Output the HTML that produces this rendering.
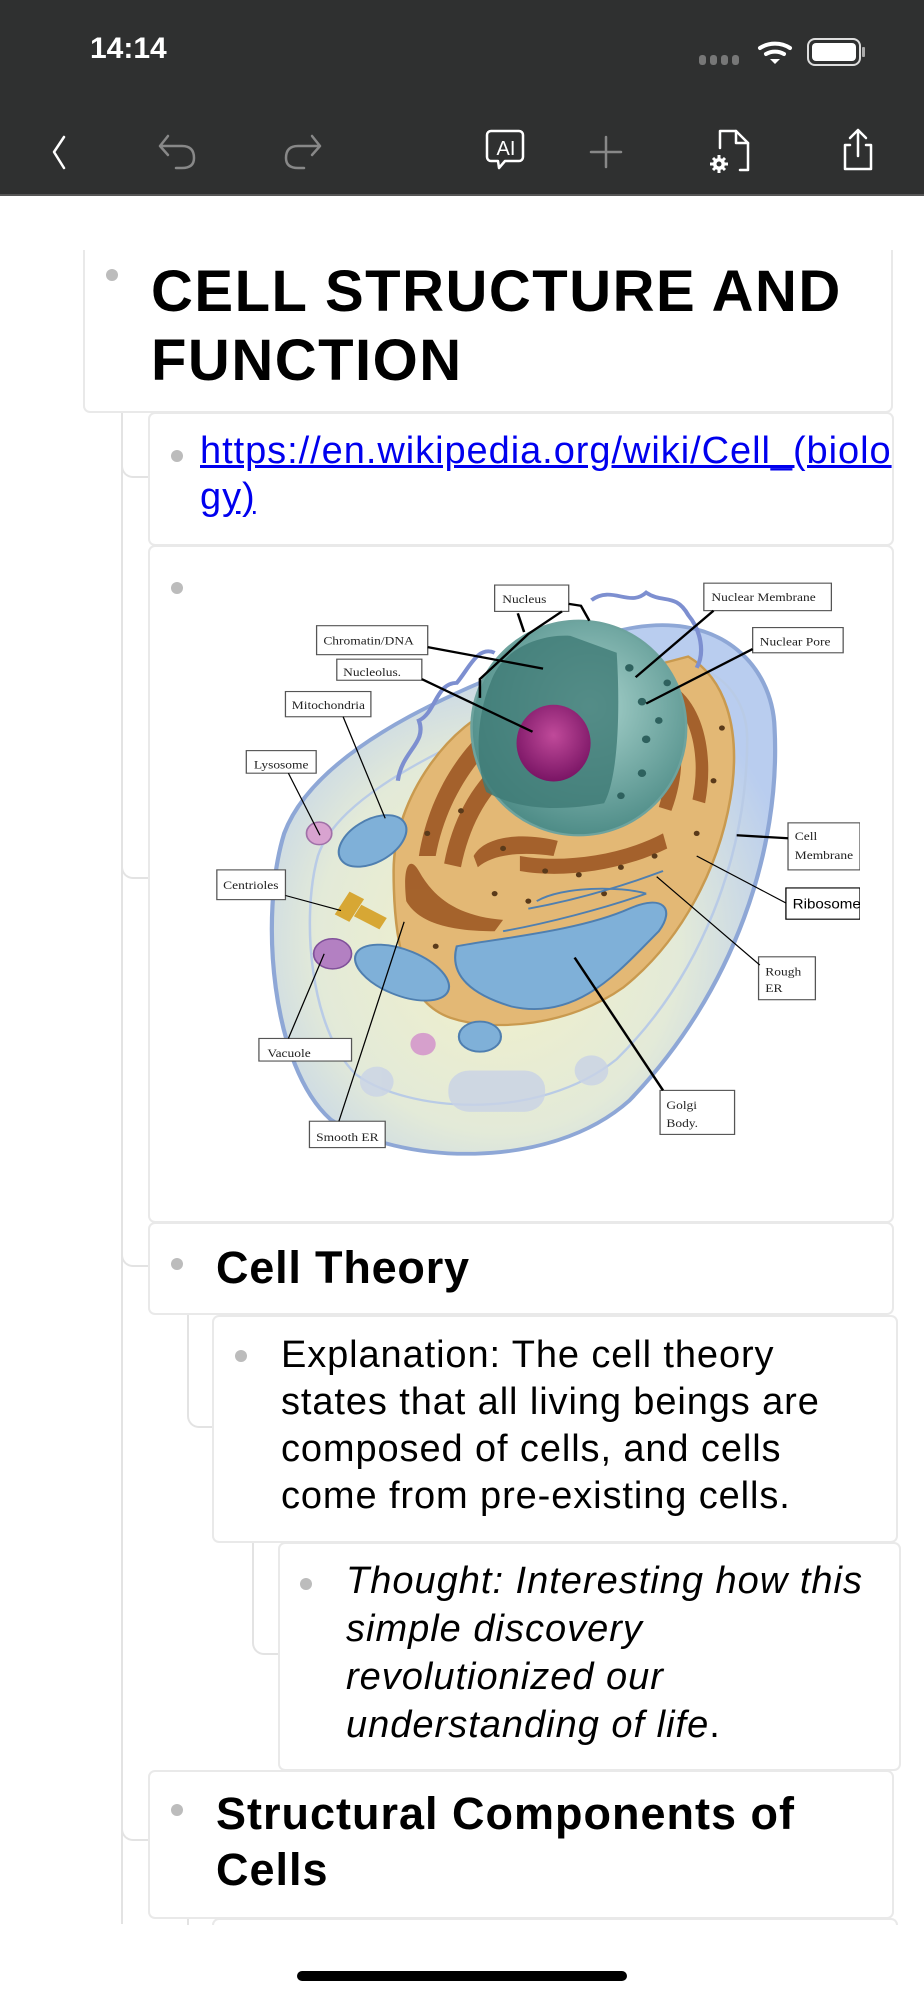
<!DOCTYPE html>
<html><head><meta charset="utf-8">
<style>
*{margin:0;padding:0;box-sizing:border-box}
body{width:924px;height:2000px;background:#fff;position:relative;overflow:hidden;font-family:"Liberation Sans",Arial,sans-serif;color:#000}
.hdr{position:absolute;left:0;top:0;width:924px;height:196px;background:#2f3030;border-bottom:2px solid #555}
.card{position:absolute;border:2px solid #e9e9e9;border-radius:7px;background:#fff}
.dot{position:absolute;width:12px;height:12px;border-radius:50%;background:#bcbcbc}
.t{position:absolute;white-space:nowrap}
.vl{position:absolute;width:2px;background:#e3e3e3}
.br{position:absolute;border-left:2px solid #e3e3e3;border-bottom:2px solid #e3e3e3;border-bottom-left-radius:12px}
</style></head><body>
<div class="hdr">
<div class="t" style="left:90px;top:32px;font-size:30px;color:#fff;font-weight:bold;letter-spacing:0px">14:14</div>
<svg width="924" height="196" style="position:absolute;left:0;top:0">
<g fill="#777"><rect x="699" y="55" width="7" height="10" rx="3"/><rect x="710" y="55" width="7" height="10" rx="3"/><rect x="721" y="55" width="7" height="10" rx="3"/><rect x="732" y="55" width="7" height="10" rx="3"/></g>
<g fill="none" stroke="#fff" stroke-width="4" stroke-linecap="round"><path d="M760 48 A28 28 0 0 1 790 48"/><path d="M766 54 A18 18 0 0 1 784 54"/></g>
<path d="M770 59 L775 64 L780 59 Z" fill="#fff"/>
<rect x="808" y="39" width="52" height="26" rx="7" fill="none" stroke="#ddd" stroke-width="2"/>
<rect x="812" y="43" width="44" height="18" rx="4" fill="#fff"/>
<rect x="862" y="47" width="3" height="10" rx="1" fill="#aaa"/>
<g fill="none" stroke-width="2.5" stroke-linecap="round" stroke-linejoin="round">
<path d="M64 137 L54 152 L64 168" stroke="#fff"/>
<path d="M168 136 L160 146 L168 155 M160 146 L182 146 Q194 146 194 158 Q194 168 182 168 L176 168" stroke="#888"/>
<path d="M312 136 L320 146 L312 155 M320 146 L298 146 Q286 146 286 158 Q286 168 298 168 L304 168" stroke="#888"/>
<path d="M606 137 L606 167 M591 152 L621 152" stroke="#888"/>
<path d="M491 131 h28 a4 4 0 0 1 4 4 v22 a4 4 0 0 1 -4 4 h-14 l-6 7 l-1 -7 h-7 a4 4 0 0 1 -4 -4 v-22 a4 4 0 0 1 4 -4z" stroke="#fff"/>
<path d="M720 148 v-17 h16 l12 12 v27 h-8" stroke="#fff"/><path d="M736 131 v12 h12" stroke="#fff"/>
<path d="M858 130 v26 M850 138 l8 -8 l8 8 M850 145 h-5 v24 h26 v-24 h-5" stroke="#fff"/>
</g>
<text x="506" y="155" fill="#fff" font-family="Liberation Sans,sans-serif" font-size="20" text-anchor="middle">AI</text>
<circle cx="719" cy="164" r="6" fill="#fff"/>
<g stroke="#fff" stroke-width="3"><path d="M719 155v18M710 164h18M713 158l12 12M725 158l-12 12"/></g><circle cx="719" cy="164" r="2.5" fill="#2f3030"/>
</svg>
</div>

<div class="vl" style="left:121px;top:412px;height:1512px"></div>
<div class="br" style="left:121px;top:412px;width:28px;height:66px"></div>
<div class="br" style="left:121px;top:545px;width:28px;height:334px"></div>
<div class="br" style="left:121px;top:1222px;width:28px;height:45px"></div>
<div class="br" style="left:121px;top:1314px;width:28px;height:527px"></div>
<div class="br" style="left:187px;top:1314px;width:26px;height:114px"></div>
<div class="br" style="left:252px;top:1542px;width:27px;height:113px"></div>
<div class="vl" style="left:187px;top:1918px;height:7px"></div>

<div class="card" style="left:83px;top:250px;width:810px;height:163px;border-top:none;border-radius:0 0 7px 7px"></div>
<div class="dot" style="left:106px;top:269px"></div>
<div class="t" style="left:151px;top:257px;font-size:58px;font-weight:bold;line-height:69px;letter-spacing:1.5px">CELL STRUCTURE AND<br>FUNCTION</div>

<div class="card" style="left:148px;top:412px;width:746px;height:134px"></div>
<div class="dot" style="left:171px;top:450px"></div>
<div class="t" style="left:200px;top:428px;font-size:38px;line-height:46px;color:#0000ee;text-decoration:underline;overflow:hidden;width:694px;letter-spacing:0.95px">https://en.wikipedia.org/wiki/Cell_(biolo<br>gy)</div>

<div class="card" style="left:148px;top:545px;width:746px;height:678px"></div>
<div class="dot" style="left:171px;top:582px"></div>
<svg style="position:absolute;left:200px;top:570px" width="660" height="590" viewBox="0 0 1568 1568" preserveAspectRatio="none">
<defs>
<radialGradient id="cy" cx="0.45" cy="0.6" r="0.6"><stop offset="0" stop-color="#f3f1c8"/><stop offset="0.6" stop-color="#e3ead8"/><stop offset="1" stop-color="#b9cdef"/></radialGradient>
<radialGradient id="nu" cx="0.55" cy="0.4" r="0.6"><stop offset="0" stop-color="#a9d3cd"/><stop offset="1" stop-color="#4f8d88"/></radialGradient>
<radialGradient id="no" cx="0.5" cy="0.4" r="0.6"><stop offset="0" stop-color="#c04a9a"/><stop offset="1" stop-color="#7a1565"/></radialGradient>
</defs>
<path d="M200 700 C280 460 650 290 1000 160 C1230 100 1360 250 1365 420 C1380 740 1270 1120 1020 1410 C830 1600 470 1580 310 1460 C170 1320 140 920 200 700Z" fill="url(#cy)" stroke="#8ea7d6" stroke-width="10"/>
<path d="M280 760 C340 560 700 420 1000 260 C1180 200 1300 300 1300 450 C1300 760 1190 1080 990 1300 C800 1470 490 1440 370 1340 C260 1220 240 920 280 760Z" fill="none" stroke="#b9cbe6" stroke-width="6"/>
<path d="M460 800 C460 600 600 400 720 360 L1160 230 C1250 290 1280 420 1265 570 C1240 790 1140 990 1005 1110 C880 1210 700 1230 595 1190 C490 1150 460 1000 460 800Z" fill="#e3b875" stroke="#c99a4f" stroke-width="6"/>
<g fill="#9a5320" opacity="0.85">
<path d="M520 760 C540 620 600 500 680 420 L700 460 C630 540 580 640 560 760Z"/>
<path d="M580 780 C600 660 650 560 720 500 L740 540 C680 600 640 680 620 790Z"/>
<path d="M650 760 C680 700 780 700 850 720 L840 760 C780 750 700 750 660 790Z"/>
<path d="M760 760 C860 780 1000 760 1100 700 L1110 740 C1000 800 860 820 760 800Z"/>
<path d="M1140 320 C1200 380 1220 500 1200 620 L1170 610 C1190 500 1170 400 1120 340Z"/>
<path d="M1080 320 C1150 400 1160 520 1120 640 L1090 630 C1120 520 1110 420 1060 340Z"/>
<path d="M490 880 C480 780 500 760 520 800 C560 880 620 920 720 930 L700 960 C600 960 520 940 490 880Z"/>
</g>
<g fill="#5a3a1a"><circle cx="540" cy="700" r="7"/><circle cx="620" cy="640" r="7"/><circle cx="720" cy="740" r="7"/><circle cx="820" cy="800" r="7"/><circle cx="900" cy="810" r="7"/><circle cx="1000" cy="790" r="7"/><circle cx="1080" cy="760" r="7"/><circle cx="1180" cy="700" r="7"/><circle cx="1220" cy="560" r="7"/><circle cx="1240" cy="420" r="7"/><circle cx="960" cy="860" r="7"/><circle cx="780" cy="880" r="7"/><circle cx="560" cy="1000" r="7"/><circle cx="700" cy="860" r="7"/></g>
<path d="M470 560 C480 480 540 460 520 400 C560 380 560 300 610 300 C640 260 660 200 700 220" fill="none" stroke="#7d8fd0" stroke-width="10"/>
<path d="M930 80 C980 40 1020 100 1060 60 C1100 90 1130 60 1160 120 C1190 160 1200 220 1180 260" fill="none" stroke="#7d8fd0" stroke-width="10"/>
<ellipse cx="900" cy="420" rx="255" ry="285" fill="url(#nu)" stroke="#6ea39e" stroke-width="6"/>
<path d="M690 300 C720 200 820 170 880 175 L990 220 C1000 400 990 560 960 620 C860 640 760 640 680 590 C650 500 660 380 690 300Z" fill="#3f7a76" opacity="0.8"/>
<g fill="#2e615e"><circle cx="1020" cy="260" r="10"/><circle cx="1050" cy="350" r="10"/><circle cx="1060" cy="450" r="10"/><circle cx="1050" cy="540" r="10"/><circle cx="1090" cy="400" r="9"/><circle cx="1110" cy="300" r="9"/><circle cx="1000" cy="600" r="9"/></g>
<ellipse cx="840" cy="460" rx="88" ry="102" fill="url(#no)"/>
<g fill="#7fb0d8" stroke="#4f7fb0" stroke-width="5">
<path d="M610 1000 C700 980 900 960 1020 900 C1100 860 1130 900 1090 960 C1000 1060 900 1200 740 1160 C650 1130 590 1080 610 1000Z"/>
<path d="M720 960 C820 940 960 900 1060 860" fill="none"/>
<path d="M780 900 C880 880 980 850 1100 800" fill="none"/>
<path d="M800 880 C860 840 1000 840 1060 860" fill="none"/>
<ellipse cx="410" cy="720" rx="90" ry="55" transform="rotate(-35 410 720)"/>
<ellipse cx="480" cy="1070" rx="120" ry="60" transform="rotate(25 480 1070)"/>
<ellipse cx="665" cy="1240" rx="50" ry="40"/>
</g>
<circle cx="283" cy="700" r="30" fill="#d8a3d0" stroke="#a070a8" stroke-width="4"/>
<ellipse cx="315" cy="1020" rx="45" ry="40" fill="#b380c2" stroke="#80509a" stroke-width="4"/>
<circle cx="530" cy="1260" r="30" fill="#d6a0cc"/>
<g fill="#d7a734"><rect x="335" y="860" width="40" height="70" transform="rotate(30 355 895)"/><rect x="370" y="905" width="70" height="35" transform="rotate(30 405 922)"/></g>
<g fill="#c9d3e6" opacity="0.8"><ellipse cx="420" cy="1360" rx="40" ry="40"/><rect x="590" y="1330" width="230" height="110" rx="50"/><ellipse cx="930" cy="1330" rx="40" ry="40"/></g>
<g fill="#fff" stroke="#555" stroke-width="3">
<rect x="700" y="40" width="176" height="70"/><rect x="277" y="148" width="264" height="77"/><rect x="325" y="237" width="202" height="56"/><rect x="203" y="323" width="203" height="67"/><rect x="110" y="480" width="166" height="60"/><rect x="40" y="797" width="163" height="79"/><rect x="140" y="1245" width="220" height="60"/><rect x="260" y="1465" width="180" height="70"/><rect x="1197" y="35" width="303" height="73"/><rect x="1313" y="153" width="215" height="67"/><rect x="1397" y="672" width="171" height="125"/><rect x="1392" y="845" width="176" height="83" stroke="#000"/><rect x="1327" y="1028" width="135" height="114"/><rect x="1093" y="1383" width="177" height="117"/>
</g>
<g fill="#222" font-family="Liberation Serif,serif" font-size="32">
<text x="718" y="88">Nucleus</text><text x="293" y="198">Chromatin/DNA</text><text x="340" y="282">Nucleolus.</text><text x="218" y="370">Mitochondria</text><text x="128" y="528">Lysosome</text><text x="55" y="848">Centrioles</text><text x="160" y="1294">Vacuole</text><text x="276" y="1518">Smooth ER</text><text x="1215" y="83">Nuclear Membrane</text><text x="1330" y="200">Nuclear Pore</text><text x="1413" y="718">Cell</text><text x="1413" y="768">Membrane</text><text x="1343" y="1078">Rough</text><text x="1343" y="1122">ER</text><text x="1108" y="1432">Golgi</text><text x="1108" y="1480">Body.</text>
<text x="1408" y="900" font-family="Liberation Sans,sans-serif" font-size="36" fill="#000">Ribosomes</text>
</g>
<g stroke="#000" fill="none" stroke-width="6">
<path d="M541 205 L815 262"/><path d="M527 290 L790 430"/><path d="M665 340 L665 290 L780 170 L860 110 M770 165 L755 115 M876 90 L905 95 L925 135"/>
<path d="M1220 108 L1035 285"/><path d="M1313 210 L1060 355"/><path d="M1397 713 L1275 705"/><path d="M1100 1383 L890 1030"/>
</g>
<g stroke="#000" fill="none" stroke-width="3">
<path d="M340 390 L440 660"/><path d="M210 540 L285 705"/><path d="M203 865 L335 905"/><path d="M210 1245 L295 1020"/><path d="M330 1465 L485 935"/><path d="M1392 885 L1180 760"/><path d="M1330 1050 L1085 815"/>
</g>
</svg>

<div class="card" style="left:148px;top:1222px;width:746px;height:93px"></div>
<div class="dot" style="left:171px;top:1258px"></div>
<div class="t" style="left:216px;top:1242px;font-size:45px;font-weight:bold;letter-spacing:0.8px">Cell Theory</div>

<div class="card" style="left:212px;top:1315px;width:686px;height:228px"></div>
<div class="dot" style="left:235px;top:1350px"></div>
<div class="t" style="left:281px;top:1332px;font-size:38px;line-height:47px;letter-spacing:0.9px">Explanation: The cell theory<br>states that all living beings are<br>composed of cells, and cells<br>come from pre-existing cells.</div>

<div class="card" style="left:278px;top:1542px;width:623px;height:229px"></div>
<div class="dot" style="left:300px;top:1578px"></div>
<div class="t" style="left:346px;top:1557px;font-size:38px;line-height:48px;font-style:italic;letter-spacing:1px">Thought: Interesting how this<br>simple discovery<br>revolutionized our<br>understanding of life<span style="font-style:normal">.</span></div>

<div class="card" style="left:148px;top:1770px;width:746px;height:149px"></div>
<div class="dot" style="left:171px;top:1804px"></div>
<div class="t" style="left:216px;top:1786px;font-size:45px;font-weight:bold;line-height:56px;letter-spacing:1px">Structural Components of<br>Cells</div>
<div class="card" style="left:212px;top:1918px;width:686px;height:20px;border-bottom:none"></div>
<div style="position:absolute;left:0;top:1925px;width:924px;height:75px;background:#fff"></div>
<div style="position:absolute;left:297px;top:1971px;width:330px;height:10px;border-radius:5px;background:#000"></div>
</body></html>
